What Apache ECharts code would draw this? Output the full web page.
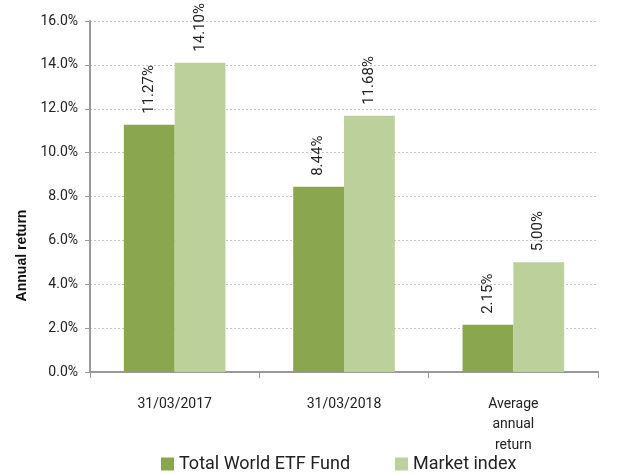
<!DOCTYPE html>
<html>
<head>
<meta charset="utf-8">
<script src="https://cdn.jsdelivr.net/npm/echarts@6/dist/echarts.min.js"></script>
<style>
  html, body { margin: 0; padding: 0; background: #fff; }
  #main { width: 628px; height: 475px; }
</style>
</head>
<body>
<div id="main"></div>
<script>
// data
var categories = ['31/03/2017', '31/03/2018', 'Average\nannual\nreturn'];
var fundValues = [11.27, 8.44, 2.15];
var indexValues = [14.10, 11.68, 5.00];
var seriesNames = ['Total World ETF Fund', 'Market index'];

var myChart = echarts.init(document.getElementById('main'));

var labelStyle = {
    show: true,
    position: 'top',
    rotate: 90,
    align: 'left',
    verticalAlign: 'middle',
    distance: 11,
    color: '#222',
    fontFamily: 'Roboto',
    fontSize: 15,
    formatter: function (p) { return p.value.toFixed(2) + '%'; }
};

option = {
    animation: false,
    textStyle: { fontFamily: 'Roboto' },
    grid: { left: 90, right: 30, top: 21, bottom: 103, containLabel: false },
    legend: {
        bottom: -3,
        left: 156,
        itemWidth: 13,
        itemHeight: 13,
        itemGap: 45,
        icon: 'rect',
        textStyle: { fontSize: 18, color: '#222', fontFamily: 'Roboto' },
        data: seriesNames
    },
    xAxis: {
        type: 'category',
        data: categories,
        axisLine: { lineStyle: { color: '#999', width: 2 } },
        axisTick: { show: true, length: 6, lineStyle: { color: '#999' } },
        axisLabel: { color: '#222', fontSize: 14, margin: 22, lineHeight: 20.5 }
    },
    yAxis: {
        type: 'value',
        min: 0,
        max: 16,
        interval: 2,
        name: 'Annual return',
        nameLocation: 'middle',
        nameGap: 60,
        nameTextStyle: {
            fontWeight: 'bold', fontSize: 14, color: '#111',
            fontFamily: 'Liberation Sans', padding: [0, 118, 0, 0]
        },
        axisLine: { show: true, lineStyle: { color: '#999', width: 2 } },
        axisTick: { show: true, length: 5, lineStyle: { color: '#999' } },
        axisLabel: {
            color: '#222',
            fontSize: 14,
            margin: 12,
            formatter: function (v) { return v.toFixed(1) + '%'; }
        },
        splitLine: { lineStyle: { color: '#c4c4c4', type: [2, 2], width: 1 } }
    },
    series: [{
        name: seriesNames[0],
        type: 'bar',
        data: fundValues,
        barGap: '0%',
        barCategoryGap: '40%',
        itemStyle: { color: '#8aa64f' },
        label: labelStyle
    }, {
        name: seriesNames[1],
        type: 'bar',
        data: indexValues,
        itemStyle: { color: '#bbd09a' },
        label: labelStyle
    }]
};

myChart.setOption(option);
</script>
</body>
</html>
